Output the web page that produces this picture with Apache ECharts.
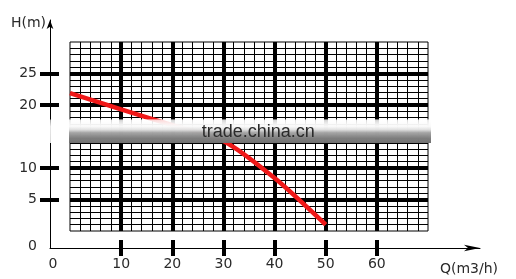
<!DOCTYPE html>
<html><head><meta charset="utf-8">
<script src="https://cdn.jsdelivr.net/npm/echarts@6/dist/echarts.min.js"></script>
<style>html,body{margin:0;padding:0;background:#fff}#c{width:516px;height:279px}</style>
</head><body><div id="c"></div>
<script>
// ---- data ----
const flowQ = [0, 10, 20, 30, 40, 50];
const headH = [21.9, 19.3, 16.8, 14.3, 8.4, 1.0];
const xTickValues = [10, 20, 30, 40, 50, 60];
const xTickLabels = ['0', '10', '20', '30', '40', '50', '60'];
const yTickValues = [5, 10, 20, 25];
const yTickLabels = ['0', '5', '10', '20', '25'];
const xName = 'Q(m3/h)';
const yName = 'H(m)';
const watermark = 'trade.china.cn';

// ---- layout ----
const G = {left: 70, top: 42, width: 358, height: 189};
const Q_MAX = 70, H_MAX = 30;
const AX = {left: 50, top: 20, right: 480, bottom: 248};
const ppq = G.width / Q_MAX, pph = G.height / H_MAX;
const gBottom = G.top + G.height;
const axXMin = (AX.left - G.left) / ppq, axXMax = (AX.right - G.left) / ppq;
const axYMin = -(AX.bottom - gBottom) / pph, axYMax = (gBottom - AX.top) / pph;
const xZeroAt = axXMin + 3 / ppq, yZeroAt = axYMin + 2 / pph;

const FONT = 'DejaVu Sans';
const TXT = '#2a2a2a';

const xLab = v => v < 0 ? xTickLabels[0] : xTickLabels[xTickValues.indexOf(v) + 1];
const yLab = v => v < 0 ? yTickLabels[0] : yTickLabels[yTickValues.indexOf(v) + 1];

const chart = echarts.init(document.getElementById('c'), null, {renderer: 'canvas'});
const option = {
  animation: false,
  backgroundColor: '#fff',
  grid: [
    {left: G.left, top: G.top, width: G.width, height: G.height, show: true,
     borderColor: '#000', borderWidth: 1, backgroundColor: 'transparent'},
    {left: AX.left, top: AX.top, width: AX.right - AX.left, height: AX.bottom - AX.top, show: false}
  ],
  xAxis: [
    {gridIndex: 0, type: 'value', min: 0, max: Q_MAX, interval: 10,
     axisLine: {show: false}, axisTick: {show: false}, axisLabel: {show: false},
     splitLine: {show: true, showMinLine: false, showMaxLine: false, lineStyle: {color: '#000', width: 4}},
     minorTick: {show: false, splitNumber: 5},
     minorSplitLine: {show: true, lineStyle: {color: '#000', width: 1}}},
    {gridIndex: 1, type: 'value', min: axXMin, max: axXMax, position: 'bottom',
     axisLine: {show: true, onZero: false, lineStyle: {color: '#000', width: 1}, symbol: ['none', 'arrow'], symbolSize: [5, 16]},
     axisTick: {show: true, customValues: xTickValues, length: 8, inside: false, lineStyle: {color: '#000', width: 4}},
     axisLabel: {show: true, customValues: [xZeroAt].concat(xTickValues), formatter: xLab, margin: 9,
                 color: TXT, fontFamily: FONT, fontSize: 14},
     splitLine: {show: false},
     name: xName, nameLocation: 'end', nameGap: -11,
     nameTextStyle: {color: TXT, fontFamily: FONT, fontSize: 14, align: 'center', verticalAlign: 'top', padding: [14, 0, 0, 0]}},
    {gridIndex: 1, type: 'value', min: axXMin, max: axXMax, position: 'bottom',
     axisLine: {show: false, onZero: false},
     axisTick: {show: true, customValues: xTickValues, length: 8, inside: true, lineStyle: {color: '#000', width: 4}},
     axisLabel: {show: false}, splitLine: {show: false}}
  ],
  yAxis: [
    {gridIndex: 0, type: 'value', min: 0, max: H_MAX, interval: 5,
     axisLine: {show: false}, axisTick: {show: false}, axisLabel: {show: false},
     splitLine: {show: true, showMinLine: false, showMaxLine: false, lineStyle: {color: '#000', width: 4}},
     minorTick: {show: false, splitNumber: 5},
     minorSplitLine: {show: true, lineStyle: {color: '#000', width: 1}}},
    {gridIndex: 1, type: 'value', min: axYMin, max: axYMax, position: 'left',
     axisLine: {show: true, onZero: false, lineStyle: {color: '#000', width: 1}, symbol: ['none', 'arrow'], symbolSize: [5, 9]},
     axisTick: {show: true, customValues: yTickValues, length: 10, inside: false, lineStyle: {color: '#000', width: 4}},
     axisLabel: {show: true, customValues: [yZeroAt].concat(yTickValues), formatter: yLab, margin: 13,
                 color: TXT, fontFamily: FONT, fontSize: 14},
     splitLine: {show: false},
     name: yName, nameLocation: 'end', nameGap: -3,
     nameTextStyle: {color: TXT, fontFamily: FONT, fontSize: 14, align: 'right', verticalAlign: 'middle', padding: [0, 4, 0, 0]}},
    {gridIndex: 1, type: 'value', min: axYMin, max: axYMax, position: 'left',
     axisLine: {show: false, onZero: false},
     axisTick: {show: true, customValues: yTickValues, length: 9, inside: true, lineStyle: {color: '#000', width: 4}},
     axisLabel: {show: false}, splitLine: {show: false}}
  ],
  series: [{
    type: 'line', xAxisIndex: 0, yAxisIndex: 0,
    data: flowQ.map((q, i) => [q, headH[i]]),
    symbol: 'none', smooth: 0.25,
    lineStyle: {color: '#f01818', width: 4.5}, z: 3
  }]
};
chart.setOption(option);

// watermark band overlay (placed through the data grid's scale)
const px = (q, h) => chart.convertToPixel({gridIndex: 0}, [q, h]);
const yTop = px(0, 17.7)[1], yBot = px(0, 13.95)[1];
const xL = px(0, 0)[0], xR = px(Q_MAX, 0)[0];
const wm = px(36.8, 15)[0];
chart.setOption({
  graphic: [
    {type: 'rect', z: 100, shape: {x: 0, y: yTop, width: 516, height: yBot - yTop},
     style: {fill: new echarts.graphic.LinearGradient(0, 0, 0, 1, [
       {offset: 0, color: 'rgba(255,255,255,0.6)'},
       {offset: 0.3, color: 'rgba(255,255,255,0.9)'},
       {offset: 1, color: 'rgba(255,255,255,0.85)'}])}},
    {type: 'rect', z: 101, shape: {x: xL - 1, y: yTop, width: xR - xL + 4, height: yBot - yTop},
     style: {fill: new echarts.graphic.LinearGradient(0, 0, 0, 1, [
       {offset: 0, color: 'rgba(255,255,255,0.5)'},
       {offset: 0.3, color: 'rgba(248,248,248,0.9)'},
       {offset: 0.44, color: 'rgba(220,220,220,0.94)'},
       {offset: 0.56, color: 'rgba(160,160,160,0.95)'},
       {offset: 0.8, color: 'rgba(120,120,120,0.95)'},
       {offset: 1, color: 'rgba(105,105,105,0.95)'}])}},
    {type: 'text', z: 102, x: wm, y: (yTop + yBot) / 2 + 1,
     style: {text: watermark, fill: '#2a2a2a', font: '18px "Liberation Sans", Arial, sans-serif',
             align: 'center', verticalAlign: 'middle'}}
  ]
});
</script></body></html>
